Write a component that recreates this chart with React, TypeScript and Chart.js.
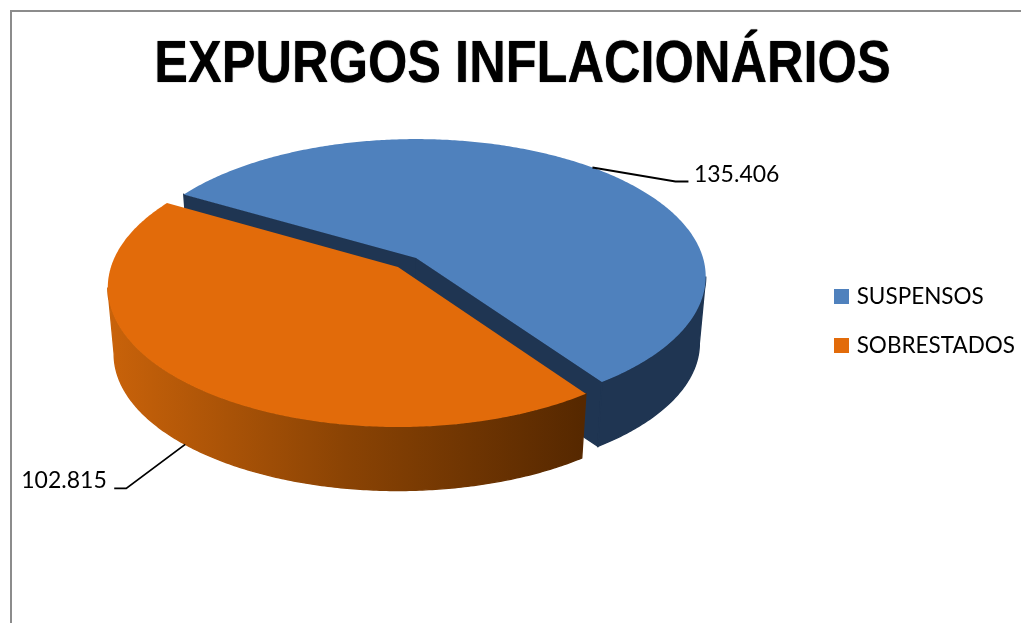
import React, { useEffect, useRef } from "react";
import { Chart, registerables } from "chart.js";

Chart.register(...registerables);

const chartTitle = "EXPURGOS INFLACIONÁRIOS";
const categories = ["SUSPENSOS", "SOBRESTADOS"];
const processCounts = [135406, 102815];
const sliceColors = ["#4f81bd", "#e26b0a"];

const R = 287;
const DEPTH = 67;
const BOTTOM_SCALE = 0.978;
const TITLE_SQUEEZE = 0.843;

type Pt = { x: number; y: number };
type Lens = { b: number; k: number };

const lensBySlice: Lens[] = [
  { b: 135, k: 0.135 },
  { b: 136.5, k: 0.147 },
];

function project(a: number, apex: Pt, bottom: boolean, lens: Lens): Pt {
  const u = Math.cos(a);
  const v = Math.sin(a);
  const w = 1 / (1 - lens.k * v);
  const s = bottom ? BOTTOM_SCALE : 1;
  return { x: apex.x + s * R * u * w, y: apex.y + (bottom ? DEPTH : 0) + s * lens.b * v * w };
}

function rim(ctx: CanvasRenderingContext2D, from: number, to: number, apex: Pt, bottom: boolean, lens: Lens) {
  const steps = Math.max(2, Math.ceil(Math.abs(to - from) / 0.01));
  for (let i = 0; i <= steps; i++) {
    const p = project(from + ((to - from) * i) / steps, apex, bottom, lens);
    ctx.lineTo(p.x, p.y);
  }
}

// part of [s, e] that faces the viewer (the front of the cylinder)
function frontRange(s: number, e: number, k: number): [number, number] | null {
  const lo = Math.asin(k);
  const hi = Math.PI - lo;
  for (let n = -1; n <= 2; n++) {
    const a = Math.max(s, lo + n * 2 * Math.PI);
    const b = Math.min(e, hi + n * 2 * Math.PI);
    if (b > a) return [a, b];
  }
  return null;
}

function legendSwatch(color: string) {
  const c = document.createElement("canvas");
  c.width = 15;
  c.height = 15;
  const g = c.getContext("2d")!;
  g.fillStyle = color;
  g.fillRect(0, 0, 15, 15);
  return c;
}

const frameAndPie = {
  id: "pie3d",
  beforeDraw(chart: any) {
    const { ctx, width, height } = chart;
    ctx.save();
    ctx.fillStyle = "#ffffff";
    ctx.fillRect(0, 0, width, height);
    ctx.fillStyle = "#8c8c8c";
    ctx.fillRect(10, 10, width - 10, 2);
    ctx.fillRect(10, 10, 2, height - 10);
    ctx.restore();
    const block = chart.titleBlock;
    if (block && !block.__squeezed) {
      block.__squeezed = true;
      const draw = block.draw.bind(block);
      block.draw = () => {
        const mid = (block.left + block.right) / 2;
        ctx.save();
        ctx.translate(mid, 0);
        ctx.scale(TITLE_SQUEEZE, 1);
        ctx.translate(-mid, 0);
        ctx.shadowColor = "rgba(0,0,0,0.8)";
        ctx.shadowBlur = 1;
        draw();
        ctx.restore();
      };
    }
  },
  beforeDatasetDraw(chart: Chart) {
    const { ctx } = chart;
    const meta = chart.getDatasetMeta(0);
    const cx = 407;
    const cy = 262.5;
    ctx.save();
    const geo = meta.data.map((el: any, i: number) => {
      const { startAngle, endAngle } = el.getProps(["startAngle", "endAngle"], true);
      const mid = (startAngle + endAngle) / 2;
      const off = el.options.offset;
      const apex = { x: cx + off * Math.cos(mid), y: cy + off * 0.454 * Math.sin(mid) };
      return { startAngle, endAngle, mid, apex, color: el.options.backgroundColor, lens: lensBySlice[i] };
    });
    geo.forEach((g: any, i: number) => {
      const { startAngle: s, endAngle: e, apex, lens } = g;
      let wall: any = "#1f3552";
      if (i === 1) {
        const grad = ctx.createLinearGradient(112, 0, 582, 0);
        grad.addColorStop(0, "#c8620a");
        grad.addColorStop(0.5, "#8a4304");
        grad.addColorStop(1, "#562800");
        wall = grad;
      }
      ctx.fillStyle = wall;
      ctx.strokeStyle = wall;
      ctx.lineWidth = 1.4;
      // cut faces
      if (i === 0) {
        [s, e].forEach((a: number) => {
          const t = project(a, apex, false, lens);
          const b = project(a, apex, true, lens);
          ctx.beginPath();
          ctx.moveTo(apex.x, apex.y);
          ctx.lineTo(t.x, t.y);
          ctx.lineTo(b.x, b.y);
          ctx.lineTo(apex.x, apex.y + DEPTH);
          ctx.closePath();
          ctx.fill();
          ctx.stroke();
        });
      }
      // outer wall, front part only
      const front = frontRange(s, e, lens.k);
      if (front) {
        ctx.beginPath();
        rim(ctx, front[0], front[1], apex, false, lens);
        rim(ctx, front[1], front[0], apex, true, lens);
        ctx.closePath();
        ctx.fill();
        ctx.stroke();
      }
      // top surface
      ctx.fillStyle = g.color;
      ctx.beginPath();
      ctx.moveTo(apex.x, apex.y);
      rim(ctx, s, e, apex, false, lens);
      ctx.closePath();
      ctx.fill();
    });

    // leader lines and value labels
    ctx.strokeStyle = "#000000";
    ctx.lineWidth = 1.8;
    ctx.fillStyle = "#000000";
    ctx.font = '23px Lato, "Open Sans", sans-serif';
    ctx.textBaseline = "alphabetic";
    const values = chart.data.datasets[0].data as number[];
    geo.forEach((g: any, i: number) => {
      const anchor = project(g.mid, g.apex, i === 1, g.lens);
      const elbow = i === 0 ? { x: anchor.x + 83, y: anchor.y + 14 } : { x: anchor.x - 59, y: anchor.y + 44 };
      const tail = i === 0 ? { x: elbow.x + 13, y: elbow.y } : { x: elbow.x - 12, y: elbow.y };
      ctx.beginPath();
      ctx.moveTo(anchor.x, anchor.y);
      ctx.lineTo(elbow.x, elbow.y);
      ctx.lineTo(tail.x, tail.y);
      ctx.stroke();
      const text = values[i].toLocaleString("pt-BR");
      if (i === 0) {
        ctx.textAlign = "left";
        ctx.fillText(text, tail.x + 5.5, tail.y + 0.5);
      } else {
        ctx.textAlign = "right";
        ctx.fillText(text, tail.x - 7.5, tail.y);
      }
    });
    ctx.restore();
    return false;
  },
};

export default function App() {
  const ref = useRef<HTMLCanvasElement>(null);
  useEffect(() => {
    document.body.style.margin = "0";
    const chart = new Chart(ref.current!, {
      type: "pie",
      data: {
        labels: categories,
        datasets: [
          {
            data: processCounts,
            backgroundColor: sliceColors,
            borderWidth: 0,
            offset: 13.4,
          },
        ],
      },
      options: {
        responsive: false,
        animation: false,
        devicePixelRatio: 1,
        rotation: 300.2,
        layout: { padding: { left: 20, right: -4, top: 19, bottom: 0 } },
        plugins: {
          tooltip: { enabled: false },
          title: {
            display: true,
            text: chartTitle,
            color: "#000000",
            font: { family: '"Liberation Sans", Arial, sans-serif', size: 60, weight: "bold" },
            padding: { top: 10.5, bottom: 19.5 },
          },
          legend: {
            position: "right",
            labels: {
              usePointStyle: true,
              boxWidth: 7,
              boxHeight: 15,
              pointStyleWidth: 7,
              padding: 26.5,
              color: "#000000",
              font: { family: 'Lato, "Open Sans", sans-serif', size: 22.5 },
              generateLabels: (c: Chart) =>
                Chart.overrides.pie.plugins.legend.labels.generateLabels(c).map((item: any, i: number) => ({
                  ...item,
                  pointStyle: legendSwatch(sliceColors[i]),
                })),
            },
          },
        },
      } as any,
      plugins: [frameAndPie as any],
    });
    return () => chart.destroy();
  }, []);
  return <canvas ref={ref} width={1021} height={623} style={{ display: "block" }} />;
}
